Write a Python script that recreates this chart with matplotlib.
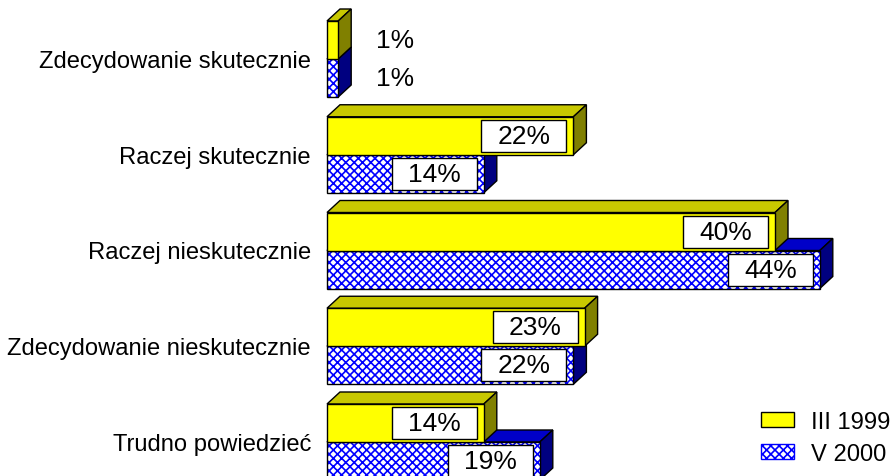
import matplotlib.pyplot as plt
from matplotlib.patches import Rectangle, Polygon, Patch

plt.rcParams['font.family'] = ['Liberation Sans', 'DejaVu Sans']
plt.rcParams['hatch.linewidth'] = 1.2

# ── Data ──────────────────────────────────────────────────────────────────────
categories = ["Zdecydowanie skutecznie", "Raczej skutecznie", "Raczej nieskutecznie",
              "Zdecydowanie nieskutecznie", "Trudno powiedzieć"]
series_names = ["III 1999", "V 2000"]
values_1999 = [1, 22, 40, 23, 14]
values_2000 = [1, 14, 44, 22, 19]

# ── Geometry (pixels → data units) ────────────────────────────────────────────
W, H = 892, 477
PX = 11.2          # px per percent
X0 = 327           # px of zero
G = 95.75          # px between group centres
Y0 = 60            # px of first group centre
BAR_H = 38 / G
DX, DY = 13 / PX, -12 / G

STYLE = {
    "III 1999": dict(front="#FFFF00", top="#C8C800", side="#808000", hatch=None),
    "V 2000":   dict(front="white",   top="#0000C8", side="#000080", hatch="xxxx"),
}

fig = plt.figure(figsize=(W / 100, H / 100), dpi=100)
ax = fig.add_axes([0, 0, 1, 1])
ax.set_xlim(-X0 / PX, (W - X0) / PX)
ax.set_ylim((H - Y0) / G, -Y0 / G)
ax.axis("off")


def bar3d(v, yt, st):
    yb = yt + BAR_H
    ax.add_patch(Polygon([(0, yt), (v, yt), (v + DX, yt + DY), (DX, yt + DY)],
                         facecolor=st["top"], edgecolor="black", lw=1))
    ax.add_patch(Polygon([(v, yt), (v + DX, yt + DY), (v + DX, yb + DY), (v, yb)],
                         facecolor=st["side"], edgecolor="black", lw=1))
    if st["hatch"]:
        ax.add_patch(Rectangle((0, yt), v, BAR_H, facecolor="white",
                               edgecolor="#0000FF", hatch=st["hatch"], lw=0))
        ax.add_patch(Rectangle((0, yt), v, BAR_H, facecolor="none",
                               edgecolor="black", lw=1))
    else:
        ax.add_patch(Rectangle((0, yt), v, BAR_H, facecolor=st["front"],
                               edgecolor="black", lw=1))


def value_label(v, yc):
    if v > 5:
        bw, bh = 85 / PX, 32 / G
        xr = v - 7 / PX
        ax.add_patch(Rectangle((xr - bw, yc - bh / 2), bw, bh, facecolor="white",
                               edgecolor="black", lw=1, zorder=3))
        ax.text(xr - bw / 2, yc, f"{v}%", ha="center", va="center",
                fontsize=19, zorder=4)
    else:
        ax.text(v + 3.4, yc, f"{v}%", ha="left", va="center", fontsize=19)


for i, cat in enumerate(categories):
    # blue (lower) first, then yellow on top
    bar3d(values_2000[i], i, STYLE["V 2000"])
    bar3d(values_1999[i], i - BAR_H, STYLE["III 1999"])
    value_label(values_1999[i], i - BAR_H / 2)
    value_label(values_2000[i], i + BAR_H / 2)
    ax.text(-16 / PX, i + 0.02, cat, ha="right", va="center", fontsize=17.1)

handles = [
    Patch(facecolor="#FFFF00", edgecolor="black", lw=1),
    Patch(facecolor="white", edgecolor="#0000FF", hatch="xxxx", lw=1),
]
ax.legend(handles, series_names, loc="center left",
          bbox_to_anchor=(761 / W, 1 - 439 / H), bbox_transform=fig.transFigure,
          frameon=False, fontsize=17.1, borderpad=0, borderaxespad=0,
          handlelength=1.4, handleheight=0.62, handletextpad=0.72,
          labelspacing=0.42)

fig.savefig("out.png", dpi=100)
